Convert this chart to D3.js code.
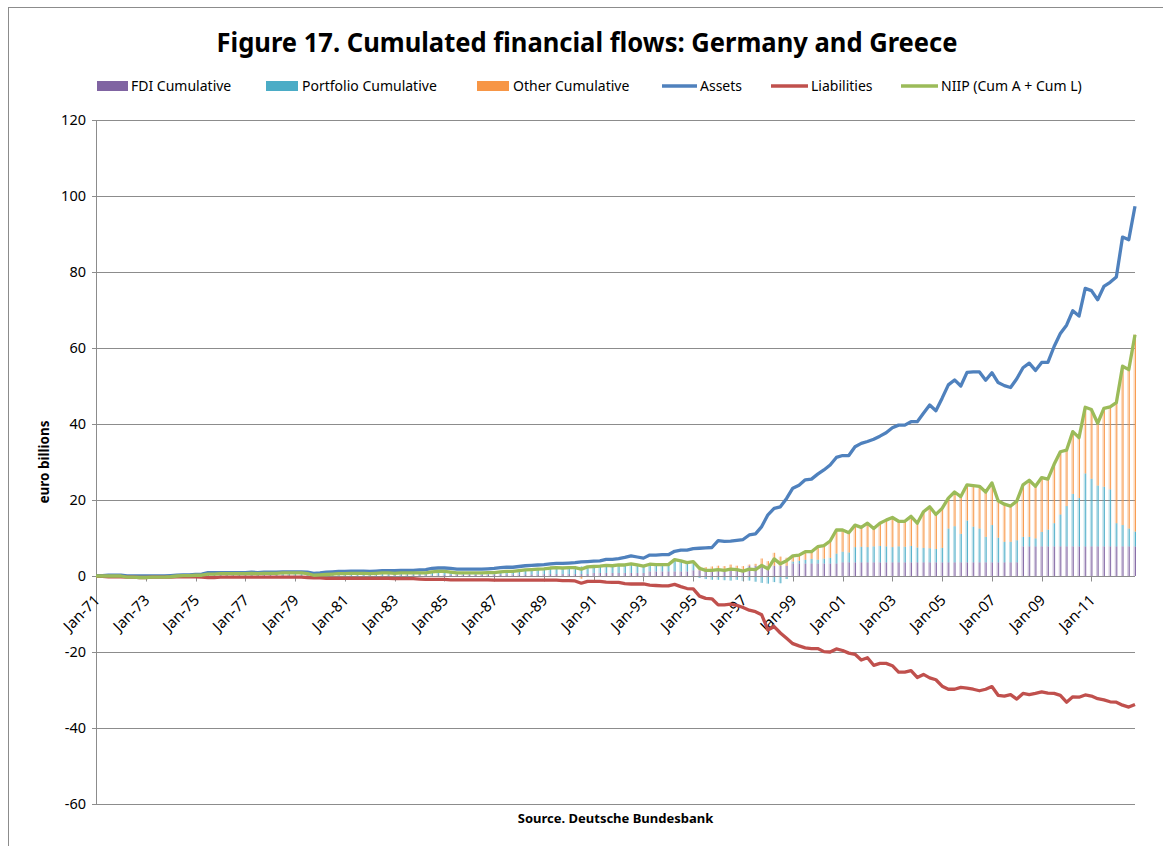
<!DOCTYPE html>
<html>
<head>
<meta charset="utf-8">
<script src="https://cdnjs.cloudflare.com/ajax/libs/d3/7.8.5/d3.min.js"></script>
<style>
  body { margin: 0; background: #fff; }
  svg { display: block; font-family: "Noto Sans", "Open Sans", sans-serif; }
</style>
</head>
<body>
<div id="viz"></div>
<script>
// quarterly data, 1971Q1 .. 2012Q4, euro billions
var firstYear = 1971, lastYear = 2012;
var tickLabels = ["Jan-71","Jan-73","Jan-75","Jan-77","Jan-79","Jan-81","Jan-83","Jan-85","Jan-87","Jan-89",
  "Jan-91","Jan-93","Jan-95","Jan-97","Jan-99","Jan-01","Jan-03","Jan-05","Jan-07","Jan-09","Jan-11"];
var yTicks = [-60, -40, -20, 0, 20, 40, 60, 80, 100, 120];

var assets = [
  0.1, 0.1, 0.2, 0.2,   0.2, 0.0, 0.0, 0.0,   0.0, 0.0, 0.0, 0.0,   0.1, 0.2, 0.3, 0.3,   // 71-74
  0.4, 0.5, 0.9, 0.9,   0.9, 0.9, 0.9, 0.9,   0.9, 1.0, 0.9, 1.0,   1.0, 1.0, 1.1, 1.1,   // 75-78
  1.1, 1.1, 1.0, 0.7,   0.8, 1.0, 1.1, 1.2,   1.2, 1.3, 1.3, 1.3,   1.2, 1.3, 1.4, 1.4,   // 79-82
  1.4, 1.5, 1.5, 1.5,   1.6, 1.7, 2.0, 2.1,   2.1, 2.0, 1.8, 1.8,   1.8, 1.8, 1.8, 1.9,   // 83-86
  2.0, 2.2, 2.3, 2.3,   2.5, 2.7, 2.8, 2.9,   3.0, 3.2, 3.3, 3.3,   3.4, 3.5, 3.7, 3.8,   // 87-90
  3.9, 4.0, 4.4, 4.4,   4.6, 4.9, 5.3, 5.0,   4.7, 5.5, 5.5, 5.6,   5.6, 6.5, 6.8, 6.8,   // 91-94
  7.2, 7.3, 7.4, 7.5,   9.3, 9.1, 9.2, 9.4,   9.6, 10.8, 11.1, 13.0, 16.1, 17.8, 18.2, 20.4, // 95-98
  23.1, 23.9, 25.3, 25.5, 26.8, 27.9, 29.2, 31.2, 31.7, 31.7, 34.0, 34.9, 35.4, 36.0, 36.8, 37.7, // 99-02
  39.0, 39.7, 39.7, 40.6, 40.6, 42.8, 45.0, 43.5, 46.8, 50.3, 51.6, 50.0, 53.6, 53.7, 53.7, 51.5, // 03-06
  53.5, 50.9, 50.1, 49.6, 51.9, 54.8, 56.0, 54.1, 56.2, 56.2, 60.4, 63.8, 66.0, 69.8, 68.4, 75.7, // 07-10
  75.1, 72.7, 76.2, 77.3, 78.7, 89.2, 88.5, 97.3                                                 // 11-12
];
var liabilities = [
  -0.1, -0.1, -0.2, -0.2,  -0.2, -0.3, -0.3, -0.4,  -0.4, -0.3, -0.3, -0.3,  -0.3, -0.2, -0.2, -0.2,
  -0.2, -0.3, -0.4, -0.4,  -0.3, -0.3, -0.3, -0.3,  -0.3, -0.3, -0.3, -0.3,  -0.3, -0.3, -0.3, -0.3,
  -0.3, -0.3, -0.4, -0.5,  -0.5, -0.6, -0.6, -0.6,  -0.6, -0.6, -0.6, -0.6,  -0.6, -0.6, -0.6, -0.6,
  -0.7, -0.7, -0.7, -0.7,  -0.8, -0.9, -0.9, -0.9,  -0.9, -1.0, -1.0, -1.0,  -1.0, -1.0, -1.0, -1.0,
  -1.1, -1.1, -1.1, -1.1,  -1.1, -1.1, -1.1, -1.1,  -1.1, -1.1, -1.1, -1.2,  -1.2, -1.3, -1.9, -1.4,
  -1.4, -1.4, -1.6, -1.7,  -1.7, -2.0, -2.1, -2.1,  -2.1, -2.4, -2.5, -2.6,  -2.6, -2.2, -2.8, -3.3,
  -3.4, -5.3, -5.9, -6.0,  -7.6, -7.6, -7.4, -7.7,  -8.3, -9.0, -9.4, -10.2, -14.2, -13.3, -15.0, -16.4,
  -17.8, -18.4, -18.9, -19.1, -19.1, -19.9, -20.0, -19.2, -19.6, -20.3, -20.6, -22.1, -21.5, -23.5, -23.0, -23.0,
  -23.6, -25.3, -25.3, -24.9, -26.7, -25.9, -26.8, -27.3, -29.0, -29.8, -29.8, -29.3, -29.5, -29.8, -30.2, -29.8,
  -29.1, -31.4, -31.6, -31.2, -32.4, -30.9, -31.2, -30.9, -30.5, -30.8, -30.9, -31.4, -33.2, -31.8, -31.9, -31.3,
  -31.6, -32.3, -32.6, -33.1, -33.2, -34.0, -34.5, -33.8
];
var niip = [
  0.0, 0.0, 0.0, 0.0,   0.0, -0.3, -0.3, -0.4,  -0.4, -0.3, -0.3, -0.3,  -0.2, 0.0, 0.1, 0.1,
  0.2, 0.2, 0.5, 0.5,   0.6, 0.6, 0.6, 0.6,   0.6, 0.7, 0.6, 0.7,   0.7, 0.7, 0.8, 0.8,
  0.8, 0.8, 0.6, 0.2,   0.3, 0.4, 0.5, 0.6,   0.6, 0.7, 0.7, 0.7,   0.6, 0.7, 0.8, 0.8,
  0.7, 0.8, 0.8, 0.8,   0.8, 0.8, 1.1, 1.2,   1.2, 1.0, 0.8, 0.8,   0.8, 0.8, 0.8, 0.9,
  0.9, 1.1, 1.2, 1.2,   1.4, 1.6, 1.7, 1.8,   1.9, 2.1, 2.2, 2.1,   2.2, 2.2, 1.8, 2.4,
  2.5, 2.6, 2.8, 2.7,   2.9, 2.9, 3.2, 2.9,   2.6, 3.1, 3.0, 3.0,   3.0, 4.3, 4.0, 3.5,
  3.8, 2.0, 1.5, 1.5,   1.7, 1.5, 1.8, 1.7,   1.3, 1.8, 1.7, 2.8,   1.9, 4.5, 3.2, 4.0,
  5.3, 5.5, 6.4, 6.4,   7.7, 8.0, 9.2, 12.1,  12.1, 11.4, 13.4, 12.8, 13.9, 12.5, 13.9, 14.7,
  15.4, 14.4, 14.4, 15.7, 13.9, 16.9, 18.2, 16.2, 17.8, 20.5, 22.1, 20.9, 24.0, 23.8, 23.6, 22.1,
  24.5, 19.8, 18.9, 18.4, 19.7, 24.0, 25.2, 23.6, 25.9, 25.5, 29.4, 32.7, 33.1, 38.0, 36.4, 44.4,
  43.8, 40.2, 44.1, 44.5, 45.6, 55.2, 54.3, 63.5
];
var fdi = [
  0.0, 0.0, 0.0, 0.0,   0.0, 0.0, 0.0, 0.0,   0.0, 0.0, 0.0, 0.0,   0.0, 0.0, 0.0, 0.0,
  0.0, 0.0, 0.0, 0.0,   0.1, 0.1, 0.1, 0.1,   0.1, 0.1, 0.1, 0.1,   0.1, 0.1, 0.1, 0.1,
  0.1, 0.1, 0.1, 0.1,   0.1, 0.1, 0.1, 0.1,   0.1, 0.1, 0.1, 0.1,   0.1, 0.1, 0.1, 0.1,
  0.2, 0.2, 0.2, 0.2,   0.2, 0.2, 0.2, 0.2,   0.3, 0.3, 0.3, 0.3,   0.3, 0.3, 0.3, 0.3,
  0.4, 0.4, 0.4, 0.4,   0.4, 0.4, 0.4, 0.4,   0.5, 0.5, 0.5, 0.5,   0.5, 0.5, 0.5, 0.5,
  0.8, 0.8, 0.8, 0.8,   0.8, 0.8, 0.8, 0.8,   0.8, 1.2, 1.2, 1.2,   1.2, 1.2, 1.2, 1.2,
  1.5, 1.5, 1.5, 1.5,   1.5, 1.5, 1.5, 1.5,   1.5, 2.7, 2.7, 2.7,   2.7, 2.7, 2.7, 2.7,
  3.3, 3.3, 3.3, 3.3,   3.3, 3.3, 3.3, 3.3,   3.6, 3.6, 3.6, 3.6,   3.6, 3.6, 3.6, 3.6,
  3.6, 3.6, 3.6, 3.6,   3.6, 3.6, 3.6, 3.6,   3.6, 3.6, 3.6, 3.6,   3.6, 3.6, 3.6, 3.6,
  3.6, 3.6, 3.6, 3.6,   3.6, 7.8, 7.8, 7.8,   7.8, 7.8, 7.8, 7.8,   7.8, 7.8, 7.8, 7.8,
  7.8, 7.8, 7.8, 7.8,   7.8, 7.8, 7.8, 7.8
];
var portfolio = [
  0.0, 0.0, 0.0, 0.0,   0.0, -0.3, -0.3, -0.4,  -0.4, -0.3, -0.3, -0.3,  -0.2, 0.0, 0.1, 0.1,
  0.2, 0.2, 0.5, 0.5,   0.5, 0.5, 0.5, 0.5,   0.5, 0.6, 0.5, 0.6,   0.6, 0.6, 0.7, 0.7,
  0.7, 0.7, 0.5, 0.1,   0.2, 0.3, 0.4, 0.5,   0.5, 0.6, 0.6, 0.6,   0.5, 0.6, 0.7, 0.7,
  0.5, 0.6, 0.6, 0.6,   0.6, 0.6, 0.9, 1.0,   0.8, 0.6, 0.4, 0.4,   0.4, 0.4, 0.4, 0.5,
  0.4, 0.6, 0.7, 0.7,   0.9, 1.1, 1.2, 1.3,   1.3, 1.5, 1.6, 1.5,   1.6, 1.6, 2.0, 1.7,
  1.5, 1.6, 1.8, 1.7,   1.9, 1.9, 2.2, 1.9,   1.6, 1.7, 1.6, 1.6,   1.6, 2.9, 2.6, 2.1,
  2.1, -0.5, -0.8, -1.0, -1.0, -1.1, -1.2, -1.0, -1.3, -1.2, -1.5, -1.8, -2.0, -1.6, -1.9, -0.8,
  0.5, 0.7, 1.0, 1.2,   1.0, 1.3, 1.5, 2.6,   2.8, 2.6, 4.0, 4.1,   4.0, 4.2, 4.3, 4.2,
  4.0, 4.2, 4.1, 4.3,   3.9, 3.8, 3.7, 3.5,   3.8, 8.9, 9.5, 7.5,   11.0, 9.4, 8.9, 6.7,
  9.8, 6.5, 5.4, 5.4,   5.8, 2.5, 2.5, 2.1,   3.8, 4.4, 6.1, 8.4,   10.6, 13.8, 12.7, 19.2,
  17.8, 16.0, 15.7, 15.0, 6.1, 5.6, 4.7, 3.9
];
var other = [
  0.0, 0.0, 0.0, 0.0,   0.0, 0.0, 0.0, 0.0,   0.0, 0.0, 0.0, 0.0,   0.0, 0.0, 0.0, 0.0,
  0.0, 0.0, 0.0, 0.0,   0.0, 0.0, 0.0, 0.0,   0.0, 0.0, 0.0, 0.0,   0.0, 0.0, 0.0, 0.0,
  0.0, 0.0, 0.0, 0.0,   0.0, 0.0, 0.0, 0.0,   0.0, 0.0, 0.0, 0.0,   0.0, 0.0, 0.0, 0.0,
  0.0, 0.0, 0.0, 0.0,   0.0, 0.0, 0.0, 0.0,   0.1, 0.1, 0.1, 0.1,   0.1, 0.1, 0.1, 0.1,
  0.1, 0.1, 0.1, 0.1,   0.1, 0.1, 0.1, 0.1,   0.1, 0.1, 0.1, 0.1,   0.1, 0.1, -0.7, 0.2,
  0.2, 0.2, 0.2, 0.2,   0.2, 0.2, 0.2, 0.2,   0.2, 0.2, 0.2, 0.2,   0.2, 0.2, 0.2, 0.2,
  0.2, 1.0, 0.8, 1.0,   1.2, 1.1, 1.5, 1.2,   1.1, 0.3, 0.5, 1.9,   1.2, 3.4, 2.4, 2.1,
  1.5, 1.5, 2.1, 1.9,   3.4, 3.4, 4.4, 6.2,   5.7, 5.2, 5.8, 5.1,   6.3, 4.7, 6.0, 6.9,
  7.8, 6.6, 6.7, 7.8,   6.4, 9.5, 10.9, 9.1,  10.4, 8.0, 9.0, 9.8,  9.4, 10.8, 11.1, 11.8,
  11.1, 9.7, 9.9, 9.4,  10.3, 13.7, 14.9, 13.7, 14.3, 13.3, 15.5, 16.5, 14.7, 16.4, 15.9, 17.4,
  18.2, 16.4, 20.6, 21.7, 31.7, 41.8, 41.8, 51.8
];

var quarters = [];
for (var yr = firstYear; yr <= lastYear; yr++) {
  for (var q = 1; q <= 4; q++) quarters.push(yr + "Q" + q);
}

var colors = {
  FDI: "#8064A2", Portfolio: "#4BACC6", Other: "#F79646",
  Assets: "#4F81BD", Liabilities: "#C0504D", NIIP: "#9BBB59"
};

var w = 1163, h = 846;
var margin = { left: 96, right: 28, top: 120, bottom: 42 };

var svg = d3.select("div#viz")
  .append("svg")
  .attr("width", w)
  .attr("height", h);

svg.append("rect").attr("width", w).attr("height", h).attr("fill", "#fff");
// chart area frame
svg.append("rect")
  .attr("x", 8.5).attr("y", 7.5)
  .attr("width", 1200).attr("height", 900)
  .attr("fill", "none").attr("stroke", "#8c8c8c");

var x = d3.scalePoint()
  .domain(d3.range(quarters.length))
  .range([margin.left, w - margin.right]);
var y = d3.scaleLinear()
  .domain([-60, 120])
  .range([h - margin.bottom, margin.top]);

// gridlines
svg.append("g")
  .selectAll("line")
  .data(yTicks)
  .enter()
  .append("line")
  .attr("x1", margin.left - 4)
  .attr("x2", w - margin.right)
  .attr("y1", function(d) { return Math.round(y(d)) + 0.5; })
  .attr("y2", function(d) { return Math.round(y(d)) + 0.5; })
  .attr("stroke", "#8c8c8c")
  .attr("stroke-width", 1);

// y tick labels
svg.append("g")
  .selectAll("text")
  .data(yTicks)
  .enter()
  .append("text")
  .attr("x", margin.left - 10)
  .attr("y", function(d) { return y(d); })
  .attr("dy", "0.35em")
  .attr("text-anchor", "end")
  .style("font-size", "14.5px")
  .text(function(d) { return d; });

// stacked bars (positives up, negatives down)
var rows = quarters.map(function(qq, i) {
  return { i: i, FDI: fdi[i], Portfolio: portfolio[i], Other: other[i] };
});
var stacked = d3.stack()
  .keys(["FDI", "Portfolio", "Other"])
  .offset(d3.stackOffsetDiverging)(rows);

var barGroups = svg.append("g")
  .selectAll("g")
  .data(stacked)
  .enter()
  .append("g");

barGroups.selectAll("rect.light")
  .data(function(s) { return s.map(function(d) { d.key = s.key; return d; }); })
  .enter()
  .append("rect")
  .attr("class", "light")
  .attr("x", function(d) { return x(d.data.i) - 1.6; })
  .attr("width", 2.4)
  .attr("y", function(d) { return y(Math.max(d[0], d[1])); })
  .attr("height", function(d) { return Math.abs(y(d[0]) - y(d[1])); })
  .attr("fill", function(d) { return colors[d.key]; })
  .attr("fill-opacity", 0.35);

barGroups.selectAll("rect.dark")
  .data(function(s) { return s; })
  .enter()
  .append("rect")
  .attr("class", "dark")
  .attr("x", function(d) { return x(d.data.i); })
  .attr("width", 1)
  .attr("y", function(d) { return y(Math.max(d[0], d[1])); })
  .attr("height", function(d) { return Math.abs(y(d[0]) - y(d[1])); })
  .attr("fill", function(d) { return colors[d.key]; })
  .attr("fill-opacity", 0.9);

// axes lines
svg.append("line")
  .attr("x1", margin.left + 0.5).attr("x2", margin.left + 0.5)
  .attr("y1", margin.top).attr("y2", h - margin.bottom)
  .attr("stroke", "#8c8c8c");

var y0 = Math.round(y(0)) + 0.5;
svg.append("line")
  .attr("x1", margin.left).attr("x2", w - margin.right)
  .attr("y1", y0).attr("y2", y0)
  .attr("stroke", "#8c8c8c");

var tickIdx = tickLabels.map(function(d, k) { return k * 8; });
svg.append("g")
  .selectAll("line")
  .data(tickIdx)
  .enter()
  .append("line")
  .attr("x1", function(d) { return Math.round(x(d)) + 0.5; })
  .attr("x2", function(d) { return Math.round(x(d)) + 0.5; })
  .attr("y1", y0)
  .attr("y2", y0 + 5)
  .attr("stroke", "#8c8c8c");

svg.append("g")
  .selectAll("text")
  .data(tickIdx)
  .enter()
  .append("text")
  .attr("transform", function(d) { return "translate(" + (x(d) + 1) + "," + (y0 + 21) + ")rotate(-45)"; })
  .attr("dy", "0.35em")
  .attr("text-anchor", "end")
  .style("font-size", "15px")
  .text(function(d, k) { return tickLabels[k]; });

// lines
var plotLine = d3.line()
  .x(function(d, i) { return x(i); })
  .y(function(d) { return y(d); });

[["Assets", assets], ["Liabilities", liabilities], ["NIIP", niip]].forEach(function(s) {
  svg.append("path")
    .datum(s[1])
    .attr("d", plotLine)
    .attr("fill", "none")
    .attr("stroke", colors[s[0]])
    .attr("stroke-width", 3.3)
    .attr("stroke-linejoin", "round");
});

// title
svg.append("text")
  .attr("x", 587).attr("y", 52)
  .attr("text-anchor", "middle")
  .attr("textLength", 741)
  .attr("lengthAdjust", "spacingAndGlyphs")
  .style("font-size", "26px")
  .style("font-weight", "bold")
  .text("Figure 17. Cumulated financial flows: Germany and Greece");

// legend
var legend = [
  { key: "FDI", label: "FDI Cumulative", type: "bar", x0: 97, x1: 128, tx: 131 },
  { key: "Portfolio", label: "Portfolio Cumulative", type: "bar", x0: 266, x1: 298, tx: 302 },
  { key: "Other", label: "Other Cumulative", type: "bar", x0: 477, x1: 509, tx: 513 },
  { key: "Assets", label: "Assets", type: "line", x0: 662, x1: 697, tx: 700 },
  { key: "Liabilities", label: "Liabilities", type: "line", x0: 771, x1: 808, tx: 811 },
  { key: "NIIP", label: "NIIP (Cum A + Cum L)", type: "line", x0: 901, x1: 938, tx: 941 }
];
var ly = 86;
legend.forEach(function(d) {
  if (d.type == "bar") {
    svg.append("rect")
      .attr("x", d.x0).attr("y", ly - 5)
      .attr("width", d.x1 - d.x0).attr("height", 10)
      .attr("fill", colors[d.key]);
  } else {
    svg.append("line")
      .attr("x1", d.x0).attr("x2", d.x1)
      .attr("y1", ly).attr("y2", ly)
      .attr("stroke", colors[d.key])
      .attr("stroke-width", 3.3);
  }
  svg.append("text")
    .attr("x", d.tx).attr("y", ly)
    .attr("dy", "0.35em")
    .style("font-size", "14px")
    .text(d.label);
});

// axis title and source
svg.append("text")
  .attr("transform", "translate(44," + ((margin.top + h - margin.bottom) / 2) + ")rotate(-90)")
  .attr("dy", "0.35em")
  .attr("text-anchor", "middle")
  .style("font-size", "13.5px")
  .style("font-weight", "bold")
  .text("euro billions");

svg.append("text")
  .attr("x", (margin.left + w - margin.right) / 2)
  .attr("y", 818)
  .attr("dy", "0.35em")
  .attr("text-anchor", "middle")
  .style("font-size", "13px")
  .style("font-weight", "bold")
  .text("Source. Deutsche Bundesbank");
</script>
</body>
</html>
